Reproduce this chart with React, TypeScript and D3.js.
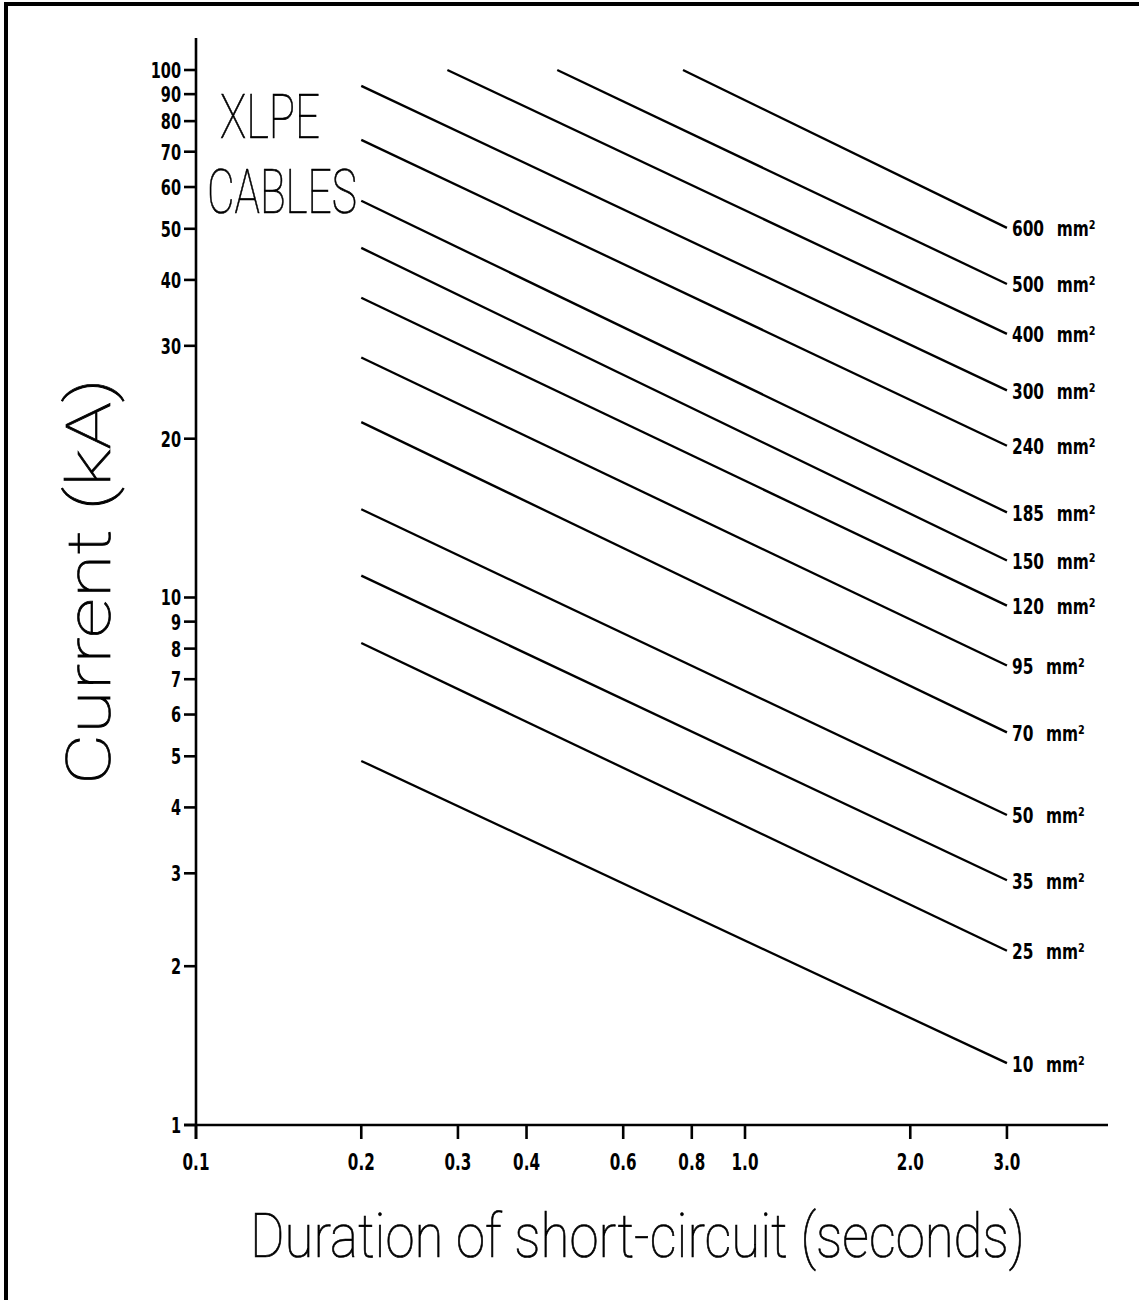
import React, { useLayoutEffect, useRef, useState } from "react";
import * as d3 from "d3";

const sizes = ["600", "500", "400", "300", "240", "185", "150", "120", "95", "70", "50", "35", "25", "10"];
const tStart = [0.771, 0.455, 0.287, 0.2, 0.2, 0.2, 0.2, 0.2, 0.2, 0.2, 0.2, 0.2, 0.2, 0.2];
const iStart = [100, 100, 100, 93.3, 73.7, 56.5, 46.0, 37.0, 28.5, 21.5, 14.7, 11.0, 8.2, 4.9];
const tEnd = [3, 3, 3, 3, 3, 3, 3, 3, 3, 3, 3, 3, 3, 3];
const iEnd = [50.2, 39.3, 31.6, 24.7, 19.4, 14.5, 11.75, 9.65, 7.43, 5.55, 3.87, 2.91, 2.14, 1.31];

const yTicks = [1, 2, 3, 4, 5, 6, 7, 8, 9, 10, 20, 30, 40, 50, 60, 70, 80, 90, 100];
const xTicks = [0.1, 0.2, 0.3, 0.4, 0.6, 0.8, 1.0, 2.0, 3.0];
const xTickLabels = ["0.1", "0.2", "0.3", "0.4", "0.6", "0.8", "1.0", "2.0", "3.0"];

const W = 1139;
const H = 1300;

const bigFont = "Roboto, 'DejaVu Sans', sans-serif";
const tickFont = "'DejaVu Sans', sans-serif";

function FitText(props: {
  x: number;
  y: number;
  width: number;
  size: number;
  rotate?: number;
  weight?: number;
  children: string;
}) {
  const ref = useRef<SVGTextElement>(null);
  const [sx, setSx] = useState(1);
  useLayoutEffect(() => {
    if (ref.current) {
      const w = ref.current.getComputedTextLength();
      if (w > 0) setSx(props.width / w);
    }
  }, [props.width, props.children]);
  const rot = props.rotate ? ` rotate(${props.rotate})` : "";
  return (
    <g transform={`translate(${props.x},${props.y})${rot} scale(${sx},1)`}>
      <text
        ref={ref}
        x={0}
        y={0}
        fontFamily={bigFont}
        fontWeight={props.weight ?? 100}
        fontSize={props.size}
        fill="#000"
        stroke="#000"
        strokeWidth={0.7}
      >
        {props.children}
      </text>
    </g>
  );
}

export default function App() {
  const x = d3.scaleLog().domain([0.1, 1]).range([196, 745]);
  const y = d3.scaleLog().domain([1, 100]).range([1125, 70]);
  const xMax = 1108;
  const yTop = 38;
  const line = d3.line<[number, number]>().x((d) => x(d[0])).y((d) => y(d[1]));

  return (
    <div style={{ position: "absolute", left: 0, top: 0 }}>
      <svg width={W} height={H} xmlns="http://www.w3.org/2000/svg" style={{ display: "block", background: "#fff" }}>
        <rect x={0} y={0} width={W} height={H} fill="#fff" />
        <rect x={6} y={4} width={W + 100} height={H + 100} fill="none" stroke="#000" strokeWidth={4} />

        {/* axes */}
        <line x1={x(0.1)} y1={yTop} x2={x(0.1)} y2={y(1) + 14} stroke="#000" strokeWidth={2.6} />
        <line x1={x(0.1) - 12} y1={y(1)} x2={xMax} y2={y(1)} stroke="#000" strokeWidth={2.6} />

        {yTicks.map((v) => (
          <g key={"y" + v}>
            <line x1={x(0.1) - 12} x2={x(0.1)} y1={y(v)} y2={y(v)} stroke="#000" strokeWidth={2.6} />
            <g transform={`translate(${x(0.1) - 15},${y(v)}) scale(0.66,1)`}>
              <text x={0} y={0} dy="0.36em" textAnchor="end" fontFamily={tickFont} fontWeight="bold" fontSize={22} fill="#000">
                {String(v)}
              </text>
            </g>
          </g>
        ))}

        {xTicks.map((v, i) => (
          <g key={"x" + v}>
            <line x1={x(v)} x2={x(v)} y1={y(1)} y2={y(1) + 14} stroke="#000" strokeWidth={2.6} />
            <g transform={`translate(${x(v)},1170) scale(0.66,1)`}>
              <text x={0} y={0} textAnchor="middle" fontFamily={tickFont} fontWeight="bold" fontSize={23} fill="#000">
                {xTickLabels[i]}
              </text>
            </g>
          </g>
        ))}

        {/* series lines */}
        {sizes.map((s, i) => (
          <g key={"s" + s}>
            <path
              d={line([[tStart[i], iStart[i]], [tEnd[i], iEnd[i]]]) || ""}
              fill="none"
              stroke="#000"
              strokeWidth={2.3}
            />
            <g transform={`translate(${x(tEnd[i]) + 5},${y(iEnd[i])}) scale(0.7,1)`}>
              <text x={0} y={0} dy="0.38em" fontFamily={tickFont} fontWeight="bold" fontSize={22} fill="#000">
                <tspan>{s}</tspan>
                <tspan dx={18}>mm²</tspan>
              </text>
            </g>
          </g>
        ))}

        {/* titles */}
        <FitText x={220} y={138} width={100} size={61}>XLPE</FitText>
        <FitText x={207} y={213} width={150} size={61}>CABLES</FitText>
        <FitText x={250} y={1257} width={775} size={62}>Duration of short-circuit (seconds)</FitText>
        <FitText x={110} y={785} width={407} size={62} rotate={-90}>Current (kA)</FitText>
      </svg>
    </div>
  );
}
